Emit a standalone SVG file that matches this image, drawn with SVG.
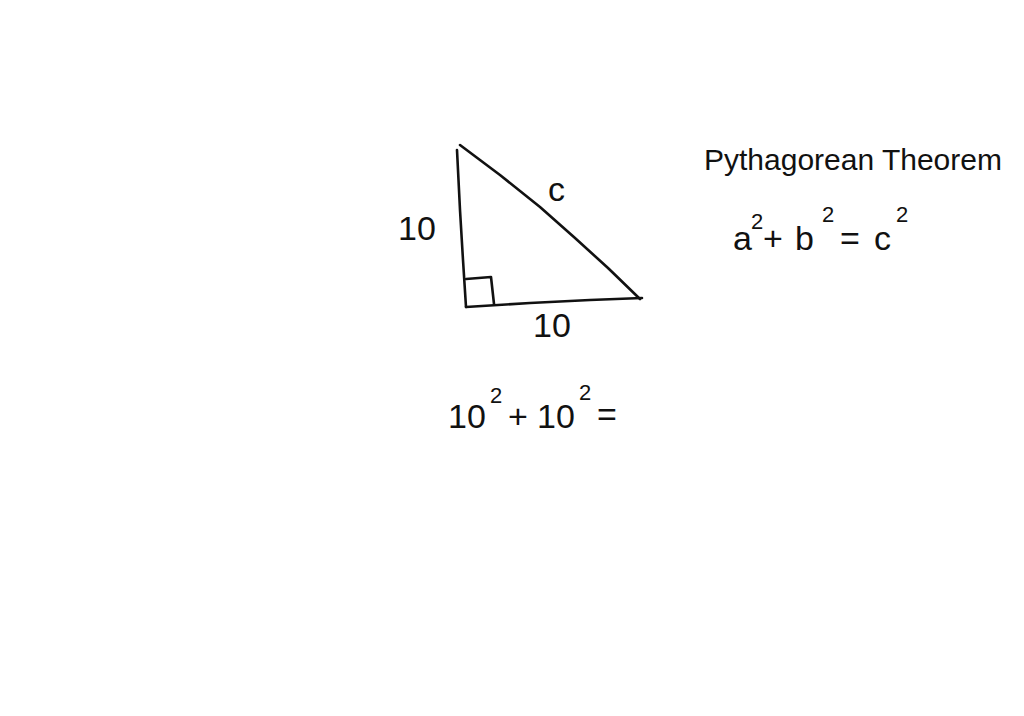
<svg xmlns="http://www.w3.org/2000/svg" width="1024" height="716" viewBox="0 0 1024 716">
<style>
.ln{fill:none;stroke:#111;stroke-width:2.6;stroke-linecap:round;stroke-linejoin:round}
.t{font-family:"Liberation Sans","DejaVu Sans",sans-serif;fill:#111;font-size:34px}
.sup{font-family:"Liberation Sans","DejaVu Sans",sans-serif;fill:#111;font-size:22px}
</style>
<rect width="1024" height="716" fill="#ffffff"/>
<g id="triangle">
<path class="ln" d="M457,150 L460,210 L463,260 L466,307"/>
<path class="ln" d="M460,145 L500,175 L540,207 L575,238 L608,268 L640,299"/>
<path class="ln" d="M466,307 L530,303 L590,300 L642,298"/>
<path class="ln" d="M466,279 L491,277 L494,304"/>
</g>
<g id="labels">
<text class="t" x="398" y="240" font-size="30">10</text>
<text class="t" x="548" y="201" font-size="30">c</text>
<text class="t" x="533" y="337" font-size="30">10</text>
</g>
<g id="title">
<text class="t" x="704" y="170" style="font-size:30px">Pythagorean Theorem</text>
</g>
<g id="formula">
<text class="t" x="733" y="250">a</text>
<text class="sup" x="751" y="229">2</text>
<text class="t" x="763" y="250">+</text>
<text class="t" x="795" y="250">b</text>
<text class="sup" x="822" y="222">2</text>
<text class="t" x="840" y="250">=</text>
<text class="t" x="874" y="250">c</text>
<text class="sup" x="896" y="222">2</text>
</g>
<g id="equation">
<text class="t" x="448" y="428">10</text>
<text class="sup" x="490" y="403">2</text>
<text class="t" x="508" y="428">+</text>
<text class="t" x="537" y="428">10</text>
<text class="sup" x="579" y="400">2</text>
<text class="t" x="597" y="426">=</text>
</g>
</svg>
